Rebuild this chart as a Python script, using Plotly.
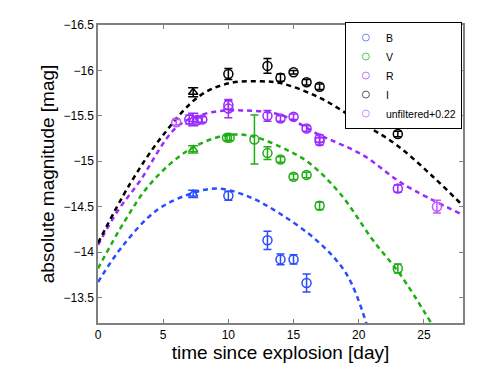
import plotly.graph_objects as go

# --- photometry (absolute magnitude, 1-sigma errors) ---
B_t = [10.0, 13.0, 14.0, 15.0, 16.0]
B_m = [-14.62, -14.13, -13.92, -13.92, -13.66]
B_e = [0.05, 0.10, 0.06, 0.05, 0.10]

V_t = [9.9, 10.1, 12.0, 13.0, 14.0, 15.0, 16.0, 17.0, 23.0]
V_m = [-15.26, -15.26, -15.24, -15.09, -15.02, -14.83, -14.85, -14.51, -13.82]
V_e = [0.03, 0.03, 0.27, 0.07, 0.03, 0.03, 0.03, 0.04, 0.05]

R_t = [7.0, 7.6, 8.0, 10.0, 10.0, 13.0, 14.0, 15.0, 16.0, 17.0, 17.0, 23.0]
R_m = [-15.46, -15.45, -15.46, -15.58, -15.62, -15.50, -15.47, -15.49, -15.36, -15.22, -15.25, -14.70]
R_e = [0.05, 0.03, 0.03, 0.10, 0.05, 0.06, 0.03, 0.03, 0.03, 0.04, 0.04, 0.04]

I_t = [10.0, 13.0, 14.0, 15.0, 16.0, 17.0, 23.0]
I_m = [-15.96, -16.05, -15.92, -15.98, -15.87, -15.82, -15.30]
I_e = [0.06, 0.08, 0.04, 0.02, 0.03, 0.03, 0.03]

U_t = [6.0, 26.0]
U_m = [-15.43, -14.50]
U_e = [0.03, 0.07]

# early epoch from a different instrument (triangles)
TRI_t = [7.3, 7.3, 7.3, 7.3]
TRI_m = [-14.64, -15.13, -15.46, -15.76]
TRI_e = [0.04, 0.04, 0.07, 0.05]
TRI_band = ["B", "V", "R", "I"]

# --- model curves ---
B_fit_t = [0, 1.9, 4.5, 7.05, 9.1, 11.4, 14.0, 17.0, 19.1, 20.6]
B_fit_m = [-13.67, -14.07, -14.46, -14.64, -14.70, -14.62, -14.42, -14.10, -13.75, -13.21]
V_fit_t = [0, 2.0, 4.0, 6.8, 9.6, 11.7, 14.7, 16.3, 18.6, 21.1, 23.2, 25.6]
V_fit_m = [-13.82, -14.33, -14.75, -15.11, -15.28, -15.28, -15.11, -14.97, -14.64, -14.13, -13.75, -13.21]
R_fit_t = [0, 1.5, 3.2, 6.06, 8.4, 11.0, 14.0, 17.0, 20.3, 23.4, 28.0]
R_fit_m = [-14.08, -14.45, -14.78, -15.38, -15.53, -15.56, -15.51, -15.29, -15.07, -14.75, -14.41]
I_fit_t = [0, 2.45, 5.0, 7.8, 10.1, 12.5, 14.0, 17.0, 19.9, 22.9, 25.7, 28.0]
I_fit_m = [-14.10, -14.75, -15.29, -15.72, -15.86, -15.88, -15.86, -15.70, -15.45, -15.18, -14.83, -14.51]

COLORS = {"B": "#2a4cff", "V": "#1fae14", "R": "#9a2bff", "I": "#000000", "U": "#c257ff"}
LEGEND_COLORS = {"B": "#6f86ff", "V": "#5cc452", "R": "#bb77ff", "I": "#555555", "U": "#d28cff"}

fig = go.Figure()

fits = [("B", B_fit_t, B_fit_m), ("V", V_fit_t, V_fit_m), ("R", R_fit_t, R_fit_m), ("I", I_fit_t, I_fit_m)]
for band, t, m in fits:
    fig.add_trace(go.Scatter(
        x=t, y=m, mode="lines", showlegend=False, hoverinfo="skip",
        line=dict(color=COLORS[band], width=2.5, dash="5px,4px", shape="spline", smoothing=1.0),
    ))

series = [
    ("B", "B", B_t, B_m, B_e),
    ("V", "V", V_t, V_m, V_e),
    ("R", "R", R_t, R_m, R_e),
    ("I", "I", I_t, I_m, I_e),
    ("U", "unfiltered+0.22", U_t, U_m, U_e),
]
for key, name, t, m, e in series:
    fig.add_trace(go.Scatter(
        x=t, y=m, mode="markers", name=name, showlegend=False,
        marker=dict(symbol="circle-open", size=9, color=COLORS[key], line=dict(width=1.5)),
        error_y=dict(type="data", array=e, visible=True, color=COLORS[key], thickness=1.5, width=4),
    ))
    # legend entry: small thin circle
    fig.add_trace(go.Scatter(
        x=[None], y=[None], mode="markers", name=name,
        marker=dict(symbol="circle-open", size=7, color=LEGEND_COLORS[key], line=dict(width=1)),
    ))

for t, m, e, band in zip(TRI_t, TRI_m, TRI_e, TRI_band):
    fig.add_trace(go.Scatter(
        x=[t], y=[m], mode="markers", showlegend=False,
        marker=dict(symbol="triangle-up-open", size=8, color=COLORS[band], line=dict(width=1.5)),
        error_y=dict(type="data", array=[e], visible=True, color=COLORS[band], thickness=1.5, width=5),
    ))

axis_common = dict(
    showline=True, linecolor="#808080", linewidth=1.5, mirror="ticks",
    ticks="inside", ticklen=4, tickcolor="#808080", tickwidth=1,
    showgrid=False, zeroline=False,
    tickfont=dict(family="Liberation Sans, Arial", size=12, color="black"),
)

fig.update_layout(
    width=485, height=387,
    margin=dict(l=90, r=30, t=10, b=72),
    paper_bgcolor="white", plot_bgcolor="white",
    font=dict(family="Liberation Sans, Arial", color="black"),
    xaxis=dict(
        range=[0, 28], tickmode="array", tickvals=[0, 5, 10, 15, 20, 25],
        title=dict(text="time since explosion [day]", font=dict(size=19), standoff=3),
        **axis_common,
    ),
    yaxis=dict(
        range=[-13.22, -16.5], tickmode="array",
        tickvals=[-16.5, -16, -15.5, -15, -14.5, -14, -13.5],
        ticktext=["\u221216.5", "\u221216", "\u221215.5", "\u221215", "\u221214.5", "\u221214", "\u221213.5"],
        title=dict(text="absolute magnitude [mag]", font=dict(size=19), standoff=4),
        **axis_common,
    ),
    legend=dict(
        x=0.997, y=1.01, xanchor="right", yanchor="top",
        bgcolor="white", bordercolor="black", borderwidth=1,
        font=dict(size=10.5), tracegroupgap=0,
    ),
)

fig.write_html("out.html")
